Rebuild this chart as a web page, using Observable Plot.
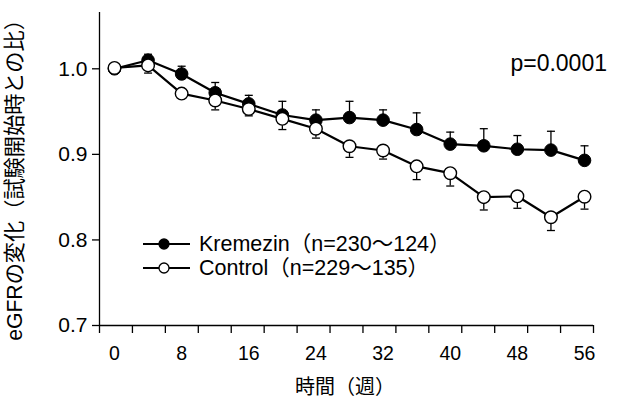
<!DOCTYPE html>
<html><head><meta charset="utf-8">
<script src="https://cdn.jsdelivr.net/npm/d3@7"></script>
<script src="https://cdn.jsdelivr.net/npm/@observablehq/plot@0.6"></script>
<style>
html,body{margin:0;padding:0;background:#fff;}
#chart{position:relative;width:622px;height:401px;}
svg{font-family:"Liberation Sans","Noto Sans CJK JP",Arial,sans-serif;}
</style></head><body><div id="chart"></div>
<script>
// ---- data ----
const weeks = [0,4,8,12,16,20,24,28,32,36,40,44,48,52,56];
const kremezin    = [1.000,1.010,0.994,0.972,0.959,0.946,0.940,0.943,0.940,0.929,0.912,0.910,0.906,0.905,0.893];
const kremezinErr = [0,    0.007,0.009,0.012,0.010,0.016,0.012,0.019,0.012,0.0195,0.014,0.020,0.016,0.022,0.017];
const control     = [1.001,1.004,0.971,0.963,0.953,0.9415,0.930,0.9095,0.9045,0.886,0.878,0.850,0.851,0.8265,0.8505];
const controlErr  = [0,    0.009,0.005,0.011,0.008,0.0125,0.011,0.013,0.010,0.0155,0.015,0.015,0.014,0.0155,0.0145];
const seriesNames = ["Kremezin（n=230〜124）", "Control（n=229〜135）"];
const xTickLabels = [0,8,16,24,32,40,48,56];
const yTickLabels = [0.7,0.8,0.9,1.0];
const xTitle = "時間（週）";
const yTitle = "eGFRの変化（試験開始時との比）";
const pText = "p=0.0001";

// ---- scales ----
const xDomain = [-1.786, 57.07];
const yDomain = [0.7, 1.0658];
const xTickCount = 16;
const xTicks = d3.range(xTickCount).map(i => xDomain[0] + i * (xDomain[1] - xDomain[0]) / (xTickCount - 1));

const kData = weeks.map((w, i) => ({week: w, value: kremezin[i], end: kremezin[i] + kremezinErr[i], err: kremezinErr[i]}));
const cData = weeks.map((w, i) => ({week: w, value: control[i], end: control[i] - controlErr[i], err: controlErr[i]}));

const cap = {draw(ctx, size) { const h = Math.sqrt(size / Math.PI); ctx.moveTo(-h, 0); ctx.lineTo(h, 0); }};
const FONT = '"Liberation Sans","Noto Sans CJK JP",Arial,sans-serif';

const chart = Plot.plot({
  width: 622, height: 401,
  marginLeft: 99, marginRight: 29, marginTop: 12, marginBottom: 76,
  x: {domain: xDomain, axis: null},
  y: {domain: yDomain, axis: null},
  style: {fontFamily: FONT, color: "#000", background: "#fff"},
  marks: [
    Plot.ruleX([xDomain[0]], {stroke: "#000", strokeWidth: 1.3}),
    Plot.ruleY([yDomain[0]], {stroke: "#000", strokeWidth: 1.3}),
    Plot.axisY({ticks: yTickLabels, tickSize: 7, tickPadding: 5, tickFormat: d3.format(".1f"), fontSize: 21, label: null, strokeWidth: 1.3}),
    Plot.axisX({ticks: xTicks, tickSize: 8, tickFormat: () => "", label: null, strokeWidth: 1.3}),
    Plot.axisX({ticks: xTickLabels, tickSize: 0, tickPadding: 21, tickFormat: d => String(d), fontSize: 19.5, label: null}),
    // Kremezin
    Plot.ruleX(kData.filter(d => d.err > 0), {x: "week", y1: "value", y2: "end", stroke: "#000", strokeWidth: 1.3}),
    Plot.dot(kData.filter(d => d.err > 0), {x: "week", y: "end", symbol: cap, r: 4, stroke: "#000", strokeWidth: 1.3, fill: "none"}),
    Plot.line(kData, {x: "week", y: "value", stroke: "#000", strokeWidth: 2.2}),
    Plot.dot(kData, {x: "week", y: "value", r: 6.3, fill: "#000", stroke: "#000", strokeWidth: 1}),
    // Control
    Plot.ruleX(cData.filter(d => d.err > 0), {x: "week", y1: "value", y2: "end", stroke: "#000", strokeWidth: 1.3}),
    Plot.dot(cData.filter(d => d.err > 0), {x: "week", y: "end", symbol: cap, r: 4, stroke: "#000", strokeWidth: 1.3, fill: "none"}),
    Plot.line(cData, {x: "week", y: "value", stroke: "#000", strokeWidth: 2.2}),
    Plot.dot(cData, {x: "week", y: "value", r: 6.3, fill: "#fff", stroke: "#000", strokeWidth: 1.4})
  ]
});
document.getElementById("chart").appendChild(chart);

// ---- titles, annotation, legend ----
const svg = d3.select(chart);
svg.append("text").attr("transform", "translate(14,175) rotate(-90)")
  .attr("text-anchor", "middle").attr("dominant-baseline", "central")
  .attr("font-size", 21.2).attr("fill", "#000").text(yTitle);
svg.append("text").attr("x", 345).attr("y", 387)
  .attr("text-anchor", "middle").attr("dominant-baseline", "central")
  .attr("font-size", 20).attr("fill", "#000").text(xTitle);
svg.append("text").attr("x", 607).attr("y", 63)
  .attr("text-anchor", "end").attr("dominant-baseline", "central")
  .attr("font-size", 23).attr("fill", "#000").text(pText);

const legendRows = [{name: seriesNames[0], fill: "#000", y: 244}, {name: seriesNames[1], fill: "#fff", y: 268}];
const lg = svg.append("g");
legendRows.forEach(r => {
  lg.append("line").attr("x1", 143).attr("x2", 190).attr("y1", r.y).attr("y2", r.y).attr("stroke", "#000").attr("stroke-width", 2.2);
  lg.append("circle").attr("cx", 164).attr("cy", r.y).attr("r", 5).attr("fill", r.fill).attr("stroke", "#000").attr("stroke-width", 1.3);
  lg.append("text").attr("x", 199).attr("y", r.y).attr("text-anchor", "start").attr("dominant-baseline", "central")
    .attr("font-size", 21.5).attr("fill", "#000").text(r.name);
});
</script></body></html>
